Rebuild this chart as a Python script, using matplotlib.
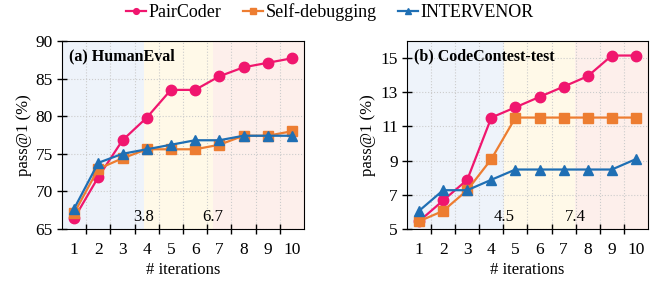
import matplotlib
matplotlib.use("Agg")
import matplotlib.pyplot as plt
import numpy as np

plt.rcParams['font.family'] = ['Liberation Serif', 'DejaVu Serif']

iterations = list(range(1, 11))

# (a) HumanEval
he_pair = [66.4, 71.9, 76.8, 79.8, 83.5, 83.5, 85.3, 86.5, 87.1, 87.7]
he_self = [67.1, 73.0, 74.4, 75.6, 75.6, 75.6, 76.2, 77.4, 77.4, 78.0]
he_int = [67.7, 73.8, 75.0, 75.6, 76.2, 76.8, 76.8, 77.4, 77.4, 77.4]

# (b) CodeContest-test
cc_pair = [5.45, 6.67, 7.88, 11.52, 12.12, 12.73, 13.33, 13.94, 15.15, 15.15]
cc_self = [5.45, 6.06, 7.27, 9.09, 11.52, 11.52, 11.52, 11.52, 11.52, 11.52]
cc_int = [6.06, 7.27, 7.27, 7.88, 8.48, 8.48, 8.48, 8.48, 8.48, 9.09]

he_marks = [3.88, 6.74]
he_mark_labels = ['3.8', '6.7']
cc_marks = [4.51, 7.48]
cc_mark_labels = ['4.5', '7.4']

c_pair = '#f0166e'
c_self = '#ed7d31'
c_int = '#1f6fb4'
bg = ['#eef3fa', '#fff9e8', '#fdefeb']


def draw(ax, pair, selfd, inter, ylim, yticks, marks, mark_labels, title, label_y):
    x = np.array(iterations)
    edges = [0.5] + marks + [10.5]
    for i in range(3):
        ax.axvspan(edges[i], edges[i + 1], color=bg[i], zorder=0, lw=0)
    ax.plot(x, pair, color=c_pair, marker='o', ms=7.5, lw=1.6, label='PairCoder', zorder=3)
    ax.plot(x, selfd, color=c_self, marker='s', ms=7.5, lw=1.6, label='Self-debugging', zorder=3)
    ax.plot(x, inter, color=c_int, marker='^', ms=7.5, lw=1.6, label='INTERVENOR', zorder=4)
    for m, t in zip(marks, mark_labels):
        ax.text(m, label_y, t, ha='center', va='center', fontsize=12, zorder=5)
    ax.set_xlim(0.5, 10.5)
    ax.set_ylim(*ylim)
    ax.set_yticks(yticks)
    ax.set_xticks(x)
    ax.set_xticks(np.arange(1.5, 10.5, 1), minor=True)
    ax.tick_params(axis='x', which='major', length=0, labelsize=12.5, pad=9)
    ax.tick_params(axis='x', which='minor', direction='inout', length=7, width=1)
    ax.tick_params(axis='y', direction='inout', length=7, width=1, labelsize=12.5, pad=3)
    ax.grid(True, axis='y', which='major', ls=':', color='#cccccc', lw=0.8, zorder=1)
    ax.grid(True, axis='x', which='minor', ls=':', color='#cccccc', lw=0.8, zorder=1)
    ax.set_axisbelow(True)
    ax.set_xlabel('# iterations', fontsize=12, labelpad=3)
    ax.set_ylabel('pass@1 (%)', fontsize=12, labelpad=3)
    ax.text(0.03, 0.92, title, transform=ax.transAxes, fontsize=11.5, fontweight='bold',
            va='center', ha='left', zorder=6)


fig = plt.figure(figsize=(6.68, 2.83), dpi=100)
ax1 = fig.add_axes([62 / 668, 1 - 229 / 283, 242 / 668, 188 / 283])
ax2 = fig.add_axes([407 / 668, 1 - 229 / 283, 241 / 668, 188 / 283])

draw(ax1, he_pair, he_self, he_int, (65, 90), [65, 70, 75, 80, 85, 90],
     he_marks, he_mark_labels, '(a) HumanEval', 66.6)
draw(ax2, cc_pair, cc_self, cc_int, (5, 16), [5, 7, 9, 11, 13, 15],
     cc_marks, cc_mark_labels, '(b) CodeContest-test', 5.7)

handles, labels = ax1.get_legend_handles_labels()
fig.legend(handles, labels, loc='center', bbox_to_anchor=(0.494, 0.957), ncol=3,
           frameon=False, fontsize=13, handlelength=1.1, handletextpad=0.15,
           columnspacing=1.2, markerscale=0.55)

fig.savefig('out.png', dpi=100)
